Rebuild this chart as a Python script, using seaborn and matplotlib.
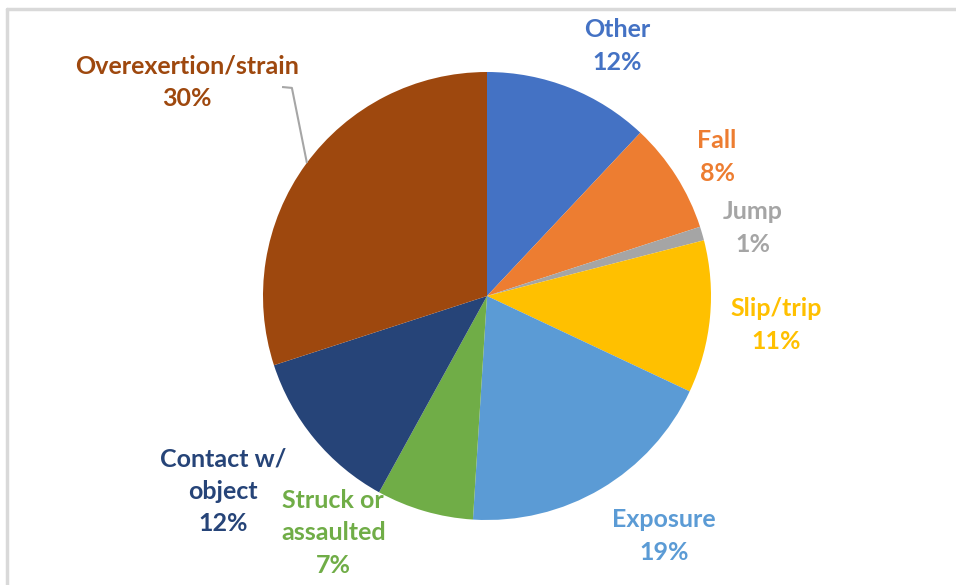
import matplotlib
matplotlib.use('Agg')
import matplotlib.pyplot as plt
import seaborn as sns
from matplotlib.lines import Line2D

categories = ['Other', 'Fall', 'Jump', 'Slip/trip', 'Exposure',
              'Struck or\nassaulted', 'Contact w/\nobject', 'Overexertion/strain']
shares = [12, 8, 1, 11, 19, 7, 12, 30]
colors = ['#4472C4', '#ED7D31', '#A5A5A5', '#FFC000', '#5B9BD5',
          '#70AD47', '#264478', '#9E480E']

# label placement (data units, pie radius = 1)
label_pos = [(0.58, 1.116), (1.027, 0.621), (1.188, 0.304), (1.29, -0.129),
             (0.79, -1.071), (-0.686, -1.058), (-1.179, -0.871), (-1.34, 0.955)]

sns.set_theme(style='white')
plt.rcParams['font.family'] = ['Lato', 'DejaVu Sans']

W, H = 956, 585
fig = plt.figure(figsize=(W / 100, H / 100), dpi=100)
cx, cy, r = 487, 296, 224
ax = fig.add_axes([(cx - r) / W, (H - cy - r) / H, 2 * r / W, 2 * r / H])

ax.pie(shares, colors=colors, startangle=90, counterclock=False, radius=1,
       wedgeprops=dict(linewidth=0))
ax.set_xlim(-1, 1)
ax.set_ylim(-1, 1)
ax.set_aspect('equal')
ax.axis('off')

for name, val, col, (x, y) in zip(categories, shares, colors, label_pos):
    ax.text(x, y, f'{name}\n{val}%', color=col, fontsize=18, fontweight='bold',
            ha='center', va='center', linespacing=1.5)

# leader line for Overexertion/strain
ax.plot([-0.915, -0.871, -0.804], [0.933, 0.929, 0.594], color='#A6A6A6',
        lw=1.5, clip_on=False, solid_capstyle='butt')

# chart area border (top and left visible)
fig.add_artist(Line2D([7 / W, 1.0], [1 - 9 / H, 1 - 9 / H], color='#D9D9D9',
                      lw=2.5, transform=fig.transFigure))
fig.add_artist(Line2D([7 / W, 7 / W], [0, 1 - 9 / H], color='#D9D9D9',
                      lw=2.5, transform=fig.transFigure))

plt.savefig('out.png', dpi=100)
